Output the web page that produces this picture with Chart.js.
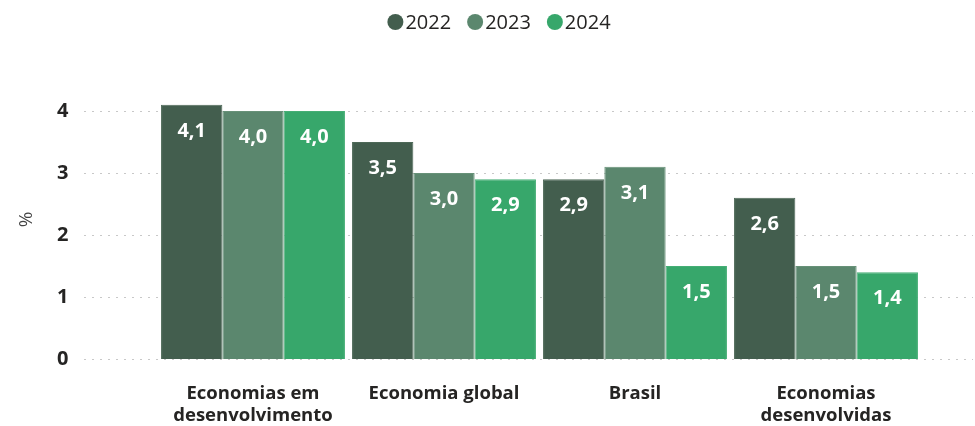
<!DOCTYPE html>
<html>
<head>
<meta charset="utf-8">
<script src="https://cdn.jsdelivr.net/npm/chart.js@4.4.1/dist/chart.umd.min.js"></script>
<style>
  html, body { margin: 0; padding: 0; background: #fff; }
  #chart { display: block; }
</style>
</head>
<body>
<canvas id="chart" width="975" height="426"></canvas>
<script>
// dados
const categories = [['Economias em', 'desenvolvimento'], 'Economia global', 'Brasil', ['Economias', 'desenvolvidas']];
const years = ['2022', '2023', '2024'];
const values2022 = [4.1, 3.5, 2.9, 2.6];
const values2023 = [4.0, 3.0, 3.1, 1.5];
const values2024 = [4.0, 2.9, 1.5, 1.4];
const yTicks = [0, 1, 2, 3, 4];

const colors = ['#435e4e', '#5b876e', '#37a76b'];
const edgeColors = ['#4e6958', '#679178', '#45ae75'];
const FONT = "'Segoe UI', 'Open Sans', sans-serif";

// linhas de grade pontilhadas, mais largas que a área do gráfico
const dottedGrid = {
    id: 'dottedGrid',
    beforeDatasetsDraw(chart) {
        const ctx = chart.ctx;
        const y = chart.scales.y;
        ctx.save();
        ctx.strokeStyle = '#c8c8c8';
        ctx.lineWidth = 1;
        ctx.setLineDash([2, 6]);
        y.ticks.forEach(t => {
            const py = Math.round(y.getPixelForValue(t.value)) + 0.5;
            ctx.beginPath();
            ctx.moveTo(84, py);
            ctx.lineTo(973, py);
            ctx.stroke();
        });
        ctx.restore();
    }
};

// rótulos de valor dentro das barras
const barLabels = {
    id: 'barLabels',
    afterDatasetsDraw(chart) {
        const ctx = chart.ctx;
        ctx.save();
        ctx.fillStyle = '#ffffff';
        ctx.font = 'bold 20px ' + FONT;
        ctx.textAlign = 'center';
        ctx.textBaseline = 'middle';
        chart.data.datasets.forEach((ds, i) => {
            chart.getDatasetMeta(i).data.forEach((bar, j) => {
                const txt = ds.data[j].toFixed(1).replace('.', ',');
                ctx.fillText(txt, bar.x, bar.y + 26);
            });
        });
        ctx.restore();
    }
};

// legenda desenhada à mão (círculo colado ao texto)
const topLegend = {
    id: 'topLegend',
    afterDraw(chart) {
        const ctx = chart.ctx;
        ctx.save();
        ctx.font = '20px ' + FONT;
        ctx.textBaseline = 'middle';
        const r = 8, gap = 2, itemGap = 16;
        const items = chart.data.datasets.map(ds => ({ label: ds.label, color: ds.backgroundColor, w: ctx.measureText(ds.label).width }));
        const total = items.reduce((s, it) => s + r * 2 + gap + it.w, 0) + itemGap * (items.length - 1);
        let x = 499 - total / 2;
        const y = 22;
        items.forEach(it => {
            ctx.fillStyle = it.color;
            ctx.beginPath();
            ctx.arc(x + r, y, r, 0, Math.PI * 2);
            ctx.fill();
            ctx.fillStyle = '#252423';
            ctx.fillText(it.label, x + r * 2 + gap, y + 1);
            x += r * 2 + gap + it.w + itemGap;
        });
        ctx.restore();
    }
};

const seriesValues = [values2022, values2023, values2024];

new Chart(document.getElementById('chart'), {
    type: 'bar',
    data: {
        labels: categories,
        datasets: years.map((yr, i) => ({
            label: yr,
            data: seriesValues[i],
            backgroundColor: colors[i],
            borderColor: edgeColors[i],
            borderWidth: 1,
            barPercentage: 1,
            categoryPercentage: 0.963
        }))
    },
    options: {
        responsive: false,
        animation: false,
        devicePixelRatio: 1,
        layout: { padding: { top: 80, right: 53.5, bottom: 0, left: 0 } },
        plugins: {
            legend: { display: false },
            tooltip: { enabled: false }
        },
        scales: {
            x: {
                grid: { display: false },
                border: { display: false },
                ticks: {
                    color: '#252423',
                    font: { family: FONT, size: 18.5, weight: 'bold', lineHeight: 1.18 },
                    padding: 16,
                    maxRotation: 0,
                    autoSkip: false
                },
                afterFit(scale) {
                    scale.height = 67;
                    scale.paddingLeft = 0;
                    scale.paddingRight = 0;
                }
            },
            y: {
                min: 0,
                max: 4.5,
                afterBuildTicks(scale) { scale.ticks = yTicks.map(v => ({ value: v })); },
                grid: { display: false, drawTicks: false },
                border: { display: false },
                ticks: {
                    color: '#252423',
                    font: { family: FONT, size: 20, weight: 'bold' },
                    padding: 89
                },
                title: {
                    display: true,
                    text: '%',
                    color: '#444444',
                    font: { family: FONT, size: 19 },
                    padding: { top: 15, bottom: 0 }
                },
                afterFit(scale) {
                    scale.width = 157.5;
                    scale.paddingTop = 0;
                    scale.paddingBottom = 0;
                }
            }
        }
    },
    plugins: [dottedGrid, barLabels, topLegend]
});
</script>
</body>
</html>
